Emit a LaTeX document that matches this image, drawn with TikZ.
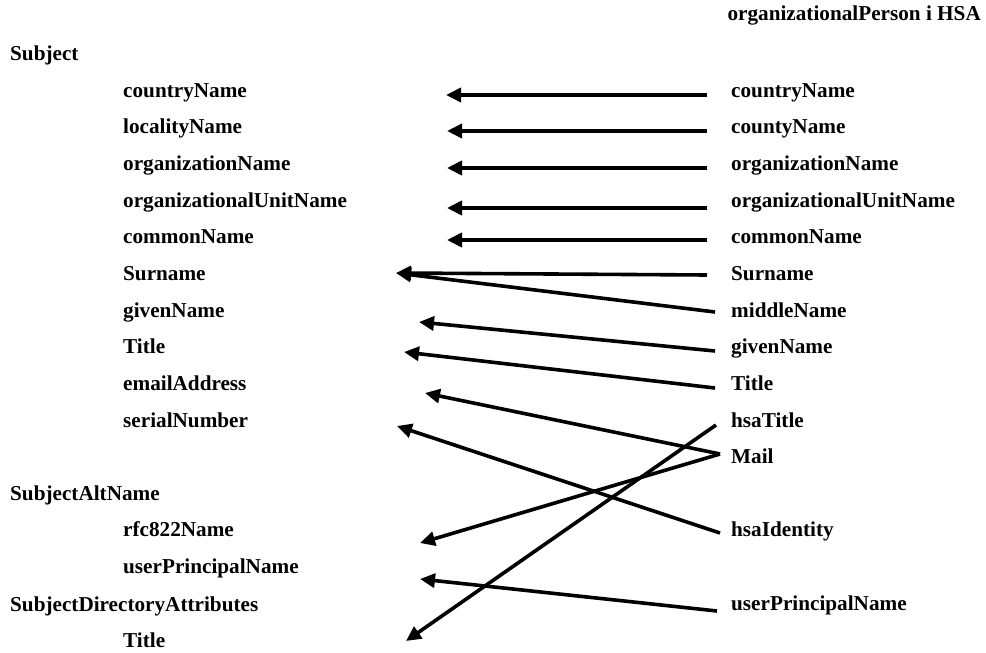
\documentclass[tikz,border=0pt]{standalone}
\usepackage{fontspec}
\setmainfont{Liberation Serif}
\usetikzlibrary{arrows.meta}
\begin{document}
\begin{tikzpicture}[x=1pt,y=-1pt,
  lbl/.style={anchor=base west,inner sep=0pt,font=\fontsize{21.2}{24}\selectfont\bfseries},
  conn/.style={line width=3.6pt,-{Triangle[length=15pt,width=14pt]}}]
\useasboundingbox (0,0) rectangle (986,653);
% header
\node[lbl,anchor=base east] (hdr) at (981,20) {organizationalPerson i HSA};
% left column
\node[lbl] (subj) at (10,60) {Subject};
\node[lbl] (lcountry) at (123,97) {countryName};
\node[lbl] (llocality) at (123,133) {localityName};
\node[lbl] (lorg) at (123,170) {organizationName};
\node[lbl] (lou) at (123,207) {organizationalUnitName};
\node[lbl] (lcn) at (123,243) {commonName};
\node[lbl] (lsn) at (123,280) {Surname};
\node[lbl] (lgiven) at (123,317) {givenName};
\node[lbl] (ltitle) at (123,353) {Title};
\node[lbl] (lemail) at (123,390) {emailAddress};
\node[lbl] (lserial) at (123,427) {serialNumber};
\node[lbl] (san) at (10,500) {SubjectAltName};
\node[lbl] (lrfc) at (123,536) {rfc822Name};
\node[lbl] (lupn) at (123,573) {userPrincipalName};
\node[lbl] (sda) at (10,611) {SubjectDirectoryAttributes};
\node[lbl] (lsdatitle) at (123,647) {Title};
% right column
\node[lbl] (rcountry) at (731,97) {countryName};
\node[lbl] (rcounty) at (731,133) {countyName};
\node[lbl] (rorg) at (731,170) {organizationName};
\node[lbl] (rou) at (731,207) {organizationalUnitName};
\node[lbl] (rcn) at (731,243) {commonName};
\node[lbl] (rsn) at (731,280) {Surname};
\node[lbl] (rmiddle) at (731,317) {middleName};
\node[lbl] (rgiven) at (731,353) {givenName};
\node[lbl] (rtitle) at (731,390) {Title};
\node[lbl] (rhsatitle) at (731,427) {hsaTitle};
\node[lbl] (rmail) at (731,463) {Mail};
\node[lbl] (rhsaid) at (731,536) {hsaIdentity};
\node[lbl] (rupn) at (731,610) {userPrincipalName};
% connector end points
\coordinate (s1) at (707,95);  \coordinate (t1) at (446,95);
\coordinate (s2) at (707,131); \coordinate (t2) at (447,131);
\coordinate (s3) at (707,168); \coordinate (t3) at (447,168);
\coordinate (s4) at (707,208); \coordinate (t4) at (447,208);
\coordinate (s5) at (707,240); \coordinate (t5) at (447,240);
\coordinate (s6) at (707,275); \coordinate (t6) at (396,273);
\coordinate (s7) at (715,312);
\coordinate (s8) at (715,351); \coordinate (t8) at (419,322);
\coordinate (s9) at (715,388); \coordinate (t9) at (404,352);
\coordinate (smail) at (720,454); \coordinate (t10) at (425,393);
\coordinate (s11) at (720,533); \coordinate (t11) at (397,426);
\coordinate (t12) at (420,543);
\coordinate (s13) at (716,425); \coordinate (t13) at (406,641);
\coordinate (s14) at (717,611); \coordinate (t14) at (420,579);
% connectors
\draw[conn] (s1) -- (t1);
\draw[conn] (s2) -- (t2);
\draw[conn] (s3) -- (t3);
\draw[conn] (s4) -- (t4);
\draw[conn] (s5) -- (t5);
\draw[conn] (s6) -- (t6);
\draw[conn] (s7) -- (t6);
\draw[conn] (s8) -- (t8);
\draw[conn] (s9) -- (t9);
\draw[conn] (smail) -- (t10);
\draw[conn] (s11) -- (t11);
\draw[conn] (smail) -- (t12);
\draw[conn] (s13) -- (t13);
\draw[conn] (s14) -- (t14);
\end{tikzpicture}
\end{document}
